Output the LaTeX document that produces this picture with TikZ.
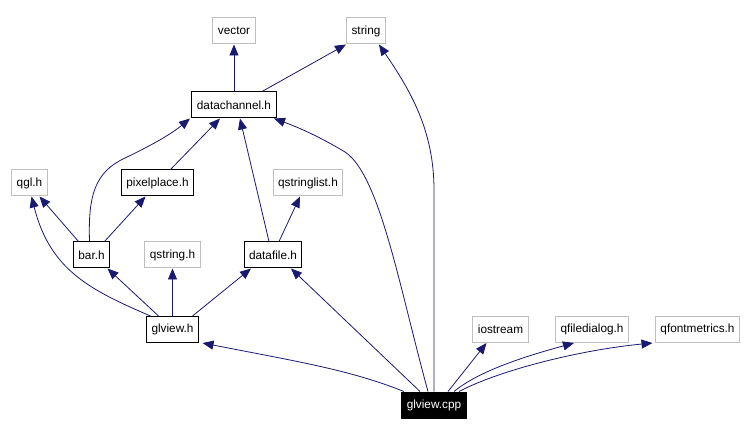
\documentclass[tikz,border=0pt]{standalone}
\usepackage{fontspec}
\setmainfont{Liberation Sans}
\usetikzlibrary{arrows.meta}
\definecolor{edgecol}{RGB}{25,25,112}
\definecolor{extgray}{RGB}{191,191,191}
\begin{document}
\begin{tikzpicture}[x=1bp,y=-1bp,
  box/.style={draw=black,line width=1bp,minimum height=26bp,inner xsep=5bp,font=\fontsize{11.8bp}{13bp}\selectfont,anchor=center},
  ext/.style={box,draw=extgray},
  root/.style={box,fill=black,text=white},
  dep/.style={draw=edgecol,line width=0.8bp,-{Triangle[length=11bp,width=9bp]}}]
\useasboundingbox (0,0) rectangle (750,435);
\node[ext] (vector) at (234,31) {vector};
\node[ext] (string) at (366,31) {string};
\node[box] (dc) at (234,105) {datachannel.h};
\node[ext] (qgl) at (29.5,183) {qgl.h};
\node[box] (pp) at (157.5,183) {pixelplace.h};
\node[ext] (qsl) at (308,183) {qstringlist.h};
\node[box] (bar) at (91.5,255) {bar.h};
\node[ext] (qs) at (172.5,255) {qstring.h};
\node[box] (df) at (273,255) {datafile.h};
\node[box] (gh) at (172.5,329.5) {glview.h};
\node[root] (cpp) at (434,405) {glview.cpp};
\node[ext] (ios) at (500.5,329.5) {iostream};
\node[ext] (qfd) at (592,329.5) {qfiledialog.h};
\node[ext] (qfm) at (697.5,329.5) {qfontmetrics.h};
% edges
\draw[dep] (dc.north) -- (vector.south);
\draw[dep] ([xshift=28bp]dc.north) -- ([xshift=-20bp]string.south);
\draw[dep] (cpp.north) -- (434,190) .. controls (434,130) and (410,90) .. ([xshift=13bp]string.south);
\draw[dep] ([xshift=-6bp]cpp.north) .. controls (400,290) and (380,175) .. (345,152) .. controls (320,137) and (300,128) .. ([xshift=40bp]dc.south);
\draw[dep] ([xshift=-14bp]cpp.north) -- ([xshift=18bp]df.south);
\draw[dep] ([xshift=-30bp]cpp.north) .. controls (350,370) and (300,362) .. ([xshift=30bp]gh.south);
\draw[dep] ([xshift=14bp]cpp.north) -- ([xshift=-14bp]ios.south);
\draw[dep] ([xshift=20bp]cpp.north) .. controls (480,370) and (530,355) .. ([xshift=-18bp]qfd.south);
\draw[dep] ([xshift=25bp]cpp.north) .. controls (500,370) and (580,350) .. ([xshift=-45bp]qfm.south);
\draw[dep] ([xshift=-22bp]gh.north) .. controls (90,290) and (50,270) .. ([xshift=2bp]qgl.south);
\draw[dep] ([xshift=-14bp]gh.north) -- ([xshift=16bp]bar.south);
\draw[dep] (gh.north) -- (qs.south);
\draw[dep] ([xshift=20bp]gh.north) -- ([xshift=-22bp]df.south);
\draw[dep] ([xshift=-13bp]bar.north) -- ([xshift=10bp]qgl.south);
\draw[dep] ([xshift=13bp]bar.north) -- ([xshift=-12bp]pp.south);
\draw[dep] ([xshift=-2bp]bar.north) .. controls (88,195) and (95,172) .. (125,158) .. controls (150,146) and (170,135) .. ([xshift=-44bp]dc.south);
\draw[dep] ([xshift=13bp]pp.north) -- ([xshift=-14bp]dc.south);
\draw[dep] ([xshift=-4bp]df.north) -- ([xshift=6bp]dc.south);
\draw[dep] ([xshift=6bp]df.north) -- ([xshift=-8bp]qsl.south);
\end{tikzpicture}
\end{document}
